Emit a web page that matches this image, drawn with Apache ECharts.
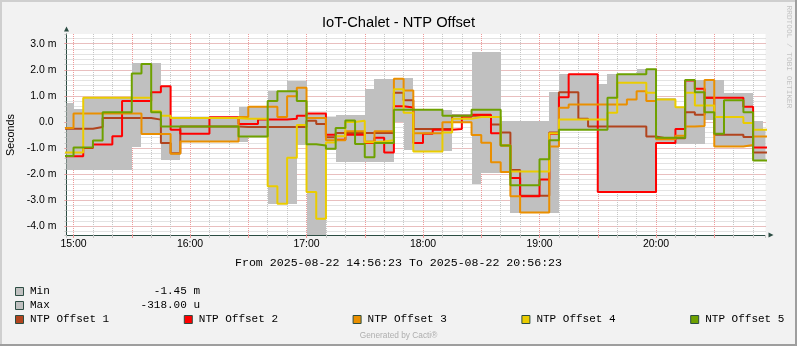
<!DOCTYPE html>
<html>
<head>
<meta charset="utf-8">
<title>IoT-Chalet - NTP Offset</title>
<script src="https://cdn.jsdelivr.net/npm/echarts@6/dist/echarts.min.js"></script>
<style>
  html, body { margin: 0; padding: 0; background: #F2F2F2; }
  #chart { width: 797px; height: 346px; }
</style>
</head>
<body>
<div id="chart"></div>
<script>
// Start of each 5-minute consolidation slot
const slotTimes = [
  '14:55',
  '15:00','15:05','15:10','15:15','15:20','15:25','15:30','15:35','15:40','15:45','15:50','15:55',
  '16:00','16:05','16:10','16:15','16:20','16:25','16:30','16:35','16:40','16:45','16:50','16:55',
  '17:00','17:05','17:10','17:15','17:20','17:25','17:30','17:35','17:40','17:45','17:50','17:55',
  '18:00','18:05','18:10','18:15','18:20','18:25','18:30','18:35','18:40','18:45','18:50','18:55',
  '19:00','19:05','19:10','19:15','19:20','19:25','19:30','19:35','19:40','19:45','19:50','19:55',
  '20:00','20:05','20:10','20:15','20:20','20:25','20:30','20:35','20:40','20:45','20:50','20:55'
];
const slotEnd = '21:00';
const graphDate = '2025-08-22';
const rangeStart = '14:56:23';
const rangeEnd = '20:56:23';

// Offsets in milliseconds
const offset1 = [-0.26,-0.26,-0.26,-0.19,0.15,0.15,0.15,0.15,0.15,0.09,-0.81,-1.2,
  -0.17,-0.17,-0.17,-0.17,-0.17,-0.17,
  -0.19,-0.19,-0.19,-0.19,-0.19,-0.19,-0.19,
  0.05,-0.08,-0.59,
  -0.42,-0.42,-0.42,-0.42,-0.42,-0.42,
  1.12,0.83,
  -0.27,-0.27,-0.27,-0.27,
  0.24,0.24,0.24,0.24,
  -0.1,-0.4,-1.84,
  -2.83,-2.83,-2.83,
  -0.4,
  1.14,1.14,
  0.12,
  -0.17,-0.17,-0.17,-0.17,-0.17,-0.17,
  -0.56,
  -0.62,-0.62,-0.62,
  0.37,0.28,0.93,
  -0.49,-0.49,-0.49,
  -0.58,
  -1.17,-1.17];

const offset2 = [-1.31,-1.31,-1.0,-0.86,-0.86,-0.55,0.8,0.8,0.8,1.14,1.37,-0.3,
  -0.45,-0.45,-0.45,0.18,0.18,0.18,-0.08,-0.08,0.09,0.09,0.09,0.12,
  0.24,0.32,0.32,-0.49,-0.68,-0.49,-0.49,-0.81,-0.6,-1.17,0.6,0.55,
  -0.81,-0.45,-0.3,-0.3,-0.27,0.2,0.28,0.28,-0.43,-0.9,-2.15,-2.85,
  -2.85,-2.2,-0.45,0.95,1.83,1.83,1.83,
  -2.68,-2.68,-2.68,-2.68,-2.68,-2.68,
  -0.81,-0.81,-0.27,1.59,1.27,
  0.93,0.93,0.93,0.93,0.58,-0.98,-0.98];

const offset3 = [-0.23,
  0.32,0.32,0.32,0.32,0.32,0.32,0.32,
  -0.46,-0.46,-0.46,-1.22,
  -0.75,-0.75,-0.75,-0.75,-0.75,-0.75,
  0.19,0.58,0.58,0.58,0.19,0.99,1.31,0.15,0.15,
  -0.7,-0.7,-0.36,-0.36,-0.75,-0.36,-0.36,1.66,1.21,
  -0.43,-0.43,-0.43,-0.01,-0.01,-0.01,
  -0.5,-0.8,-1.54,-1.92,-2.85,-3.47,-3.47,-3.47,-0.94,0.54,
  0.67,0.67,0.67,0.67,0.67,0.67,
  0.86,1.18,0.8,-0.66,-0.66,-0.53,-0.17,-0.15,1.61,
  -0.94,-0.94,-0.94,-0.88,-0.56,-0.56];

const offset4 = [-1.17,-1.17,
  0.93,0.93,0.93,0.93,0.93,0.93,0.93,
  0.41,0.24,
  0.15,0.15,0.15,0.15,0.15,0.15,0.15,
  0.12,0.12,0.12,
  -2.46,-3.13,-1.37,-0.12,-2.68,-3.71,-0.79,-0.55,0.0,0.05,-0.78,-0.75,-0.7,1.25,0.35,
  -1.13,-1.13,-1.13,-0.4,0.12,0.12,0.19,0.19,0.19,-0.9,
  -1.9,-1.9,-1.9,-1.9,-0.43,
  0.09,0.09,0.09,0.09,0.09,
  0.35,1.5,1.5,1.5,1.12,0.86,0.86,0.56,1.12,0.63,0.63,
  0.19,0.19,0.19,-0.04,-0.3,-0.3];

const offset5 = [-1.3,-0.98,-0.98,-0.71,0.37,0.37,0.37,1.86,2.22,0.37,
  -0.17,-0.17,-0.17,-0.17,-0.17,-0.17,-0.17,-0.17,
  -0.56,-0.56,-0.56,0.8,1.18,1.18,0.8,-0.85,-0.9,-1.03,-0.23,0.06,-0.84,-1.35,-0.81,-0.81,
  0.47,0.47,0.47,0.47,0.47,0.24,0.24,0.24,0.47,0.47,0.47,-0.9,
  -2.42,-2.42,-2.42,-1.43,-0.7,
  -0.3,-0.3,-0.3,-0.3,-0.3,
  0.93,1.83,1.83,1.83,2.02,-0.6,-0.6,-0.6,1.61,1.14,0.37,-0.45,0.83,0.83,0.37,-1.48,-1.48];

// Min / max envelope of the consolidation
const bandMin = [-1.84,-1.84,-1.84,-1.84,-1.84,-1.84,-1.84,
  -0.94,-0.46,-0.46,-1.46,-1.46,
  -0.77,-0.77,-0.77,-0.77,-0.77,-0.77,-0.77,
  -0.58,-0.58,-3.13,-3.15,-3.15,-0.9,-4.6,-4.6,-1.07,
  -1.52,-1.52,-1.52,-1.52,-1.52,-1.52,
  -0.02,-1.07,-1.13,-1.13,-1.13,-1.13,-0.05,-0.05,
  -2.38,-1.94,-1.94,-1.94,
  -3.47,-3.47,-3.47,-3.47,-3.47,
  -0.32,-0.32,-0.32,-0.32,
  -2.7,-2.7,-2.7,-2.7,-2.7,-2.7,
  -0.83,-0.83,-0.83,-0.83,-0.83,
  0.06,-0.96,-0.96,-0.96,-0.96,-1.48,-1.45];

const bandMax = [0.71,0.51,0.95,0.95,0.95,0.95,0.95,
  2.25,2.25,2.25,1.37,0.17,
  0.2,0.2,0.2,0.2,0.2,0.2,
  0.58,0.6,0.6,1.18,1.2,1.57,1.57,0.35,0.35,0.19,
  0.28,0.28,0.28,1.25,1.66,1.66,1.68,1.68,
  0.47,0.47,0.47,0.47,0.3,0.3,
  2.69,2.69,2.69,
  0.02,0.02,0.02,0.02,0.02,1.14,
  1.85,1.85,1.85,1.85,1.44,1.85,1.85,1.85,2.03,2.03,
  0.9,0.9,0.56,1.61,1.61,1.61,1.61,1.12,1.12,1.12,0.02,-0.318];

const seriesNames = ['NTP Offset 1', 'NTP Offset 2', 'NTP Offset 3', 'NTP Offset 4', 'NTP Offset 5'];
const seriesColors = ['#B1441E', '#FF0000', '#EA8F00', '#EACC00', '#6EA100'];
const seriesValues = [offset1, offset2, offset3, offset4, offset5];

// ---- helpers ----
function toMinutes(hms) {
  const p = hms.split(':').map(Number);
  return p[0] * 60 + p[1] + (p[2] || 0) / 60;
}
const edges = slotTimes.concat([slotEnd]).map(toMinutes);
function stepData(values) {
  return edges.map((t, i) => [t, values[Math.min(i, values.length - 1)]]);
}
function fmtAxis(v) {
  if (Math.abs(v) < 1e-9) return '0.0 ';
  return v.toFixed(1) + ' m';
}
function fmtHour(v) {
  if (Math.abs(v % 60) > 1e-6) return '';
  const h = Math.round(v / 60);
  return (h < 10 ? '0' : '') + h + ':00';
}
// value in ms, printed with an SI prefix
function fmtLegend(v) {
  if (Math.abs(v) >= 1) return v.toFixed(2) + ' m';
  return (v * 1000).toFixed(2) + ' u';
}

const xMin = toMinutes(rangeStart);
const xMax = toMinutes(rangeEnd);
const yMin = -4.33;
const yMax = 3.37;

const AXIS = '#2C4D43';
const GRID_MINOR = '#C6C6C6';
const GRID_MAJOR = '#EE9A9A';
const BAND = '#C0C0C0';
const SANS = '"Liberation Sans", Arial, sans-serif';
const MONO = '"Liberation Mono", "DejaVu Sans Mono", monospace';

// min/max envelope: one block per slot, snapped to whole pixels so neighbours join cleanly
const bandRows = slotTimes.map((t, i) => [edges[i], edges[i + 1], bandMin[i], bandMax[i]]);

const series = [
  {
    name: 'Min / Max', type: 'custom', coordinateSystem: 'cartesian2d',
    xAxisIndex: 0, yAxisIndex: 0, silent: true, z: 2,
    encode: { x: [0, 1], y: [2, 3] },
    data: bandRows,
    renderItem: function (params, api) {
      const pTop = api.coord([api.value(0), api.value(3)]);
      const pBot = api.coord([api.value(1), api.value(2)]);
      const x0 = Math.round(pTop[0]), x1 = Math.round(pBot[0]);
      const y0 = Math.round(pTop[1]), y1 = Math.round(pBot[1]);
      const cs = params.coordSys;
      const shape = echarts.graphic.clipRectByRect(
        { x: x0, y: y0, width: x1 - x0, height: y1 - y0 },
        { x: cs.x, y: cs.y, width: cs.width, height: cs.height });
      if (!shape) return null;
      return { type: 'rect', shape: shape, style: { fill: BAND } };
    }
  }
];
seriesValues.forEach((vals, i) => {
  series.push({
    name: seriesNames[i], type: 'line', step: 'end', data: stepData(vals),
    xAxisIndex: 0, yAxisIndex: 0,
    symbol: 'none', silent: true, z: 3 + i,
    lineStyle: { color: seriesColors[i], width: 2 }
  });
});

const graphic = [];
// 3d frame
graphic.push({ type: 'rect', shape: { x: 0, y: 0, width: 797, height: 2 }, style: { fill: '#CFCFCF' }, silent: true });
graphic.push({ type: 'rect', shape: { x: 0, y: 0, width: 2, height: 346 }, style: { fill: '#CFCFCF' }, silent: true });
graphic.push({ type: 'rect', shape: { x: 0, y: 344, width: 797, height: 2 }, style: { fill: '#9E9E9E' }, silent: true });
graphic.push({ type: 'rect', shape: { x: 795, y: 0, width: 2, height: 346 }, style: { fill: '#9E9E9E' }, silent: true });

graphic.push({ type: 'text', x: 398.5, y: 23, silent: true,
  style: { text: 'IoT-Chalet - NTP Offset', fill: '#000', fontSize: 14.7, fontFamily: SANS, align: 'center', verticalAlign: 'middle' } });
graphic.push({ type: 'text', x: 11, y: 135, rotation: Math.PI / 2, silent: true,
  style: { text: 'Seconds', fill: '#000', fontSize: 10.8, fontFamily: SANS, align: 'center', verticalAlign: 'middle' } });
graphic.push({ type: 'text', x: 789, y: 57, rotation: -Math.PI / 2, silent: true,
  style: { text: 'RRDTOOL / TOBI OETIKER', fill: '#C4C4C4', fontSize: 7.8, fontFamily: MONO, align: 'center', verticalAlign: 'middle' } });
graphic.push({ type: 'text', x: 398.5, y: 263, silent: true,
  style: { text: 'From ' + graphDate + ' ' + rangeStart + ' To ' + graphDate + ' ' + rangeEnd,
    fill: '#000', fontSize: 11.6, fontFamily: MONO, align: 'center', verticalAlign: 'middle' } });
graphic.push({ type: 'text', x: 398.5, y: 336, silent: true,
  style: { text: 'Generated by Cacti\u00AE', fill: '#AEAEAE', fontSize: 8.3, fontFamily: SANS, align: 'center', verticalAlign: 'middle' } });

function legendEntry(x, y, color, label) {
  graphic.push({ type: 'rect', silent: true, shape: { x: x + 0.5, y: y + 0.5, width: 8, height: 8 },
    style: { fill: color, stroke: AXIS, lineWidth: 1 } });
  graphic.push({ type: 'text', x: x + 15, y: y + 4.5, silent: true,
    style: { text: label, fill: '#000', fontSize: 11, fontFamily: MONO, align: 'left', verticalAlign: 'middle' } });
}
legendEntry(15, 287, BAND, 'Min');
graphic.push({ type: 'text', x: 200, y: 291.5, silent: true,
  style: { text: fmtLegend(bandMin[bandMin.length - 1]), fill: '#000', fontSize: 11, fontFamily: MONO, align: 'right', verticalAlign: 'middle' } });
legendEntry(15, 301, BAND, 'Max');
graphic.push({ type: 'text', x: 200, y: 305.5, silent: true,
  style: { text: fmtLegend(bandMax[bandMax.length - 1]), fill: '#000', fontSize: 11, fontFamily: MONO, align: 'right', verticalAlign: 'middle' } });
seriesNames.forEach((n, i) => legendEntry(15 + i * 168.8, 315, seriesColors[i], n));

const option = {
  animation: false,
  backgroundColor: '#F2F2F2',
  grid: { left: 66.5, top: 34, width: 699, height: 201, show: true, backgroundColor: '#FFFFFF', borderWidth: 0 },
  xAxis: [
    {
      type: 'value', position: 'bottom', min: xMin, max: xMax, alignTicks: false,
      splitNumber: 36, minInterval: 10, maxInterval: 10,
      axisLine: { show: false, onZero: false },
      axisTick: { show: true, length: 3, lineStyle: { color: GRID_MINOR, width: 1 } },
      axisLabel: { show: false },
      splitLine: { show: true, showMinLine: false, showMaxLine: false, lineStyle: { color: GRID_MINOR, width: 1, type: [1, 1] } }
    },
    {
      type: 'value', position: 'bottom', min: xMin, max: xMax, alignTicks: false,
      splitNumber: 12, minInterval: 30, maxInterval: 30,
      axisLine: { show: true, onZero: false, lineStyle: { color: AXIS, width: 1 },
        symbol: ['none', 'triangle'], symbolSize: [5, 5], symbolOffset: [0, 5.5] },
      axisTick: { show: true, length: 3, lineStyle: { color: GRID_MAJOR, width: 1 } },
      axisLabel: { show: true, formatter: fmtHour, showMinLabel: false, showMaxLabel: false,
        color: '#000', fontSize: 10.5, fontFamily: SANS, margin: 4 },
      splitLine: { show: true, showMinLine: false, showMaxLine: false, lineStyle: { color: GRID_MAJOR, width: 1, type: [1, 1] } }
    }
  ],
  yAxis: [
    {
      type: 'value', position: 'left', min: yMin, max: yMax, alignTicks: false,
      splitNumber: 39, minInterval: 0.2, maxInterval: 0.2,
      axisLine: { show: false, onZero: false },
      axisTick: { show: true, length: 2, lineStyle: { color: GRID_MINOR, width: 1 } },
      axisLabel: { show: false },
      splitLine: { show: true, showMinLine: false, showMaxLine: false, lineStyle: { color: GRID_MINOR, width: 1, type: [1, 1] } }
    },
    {
      type: 'value', position: 'left', min: yMin, max: yMax, alignTicks: false,
      splitNumber: 8, minInterval: 1, maxInterval: 1,
      axisLine: { show: true, onZero: false, lineStyle: { color: AXIS, width: 1 },
        symbol: ['none', 'triangle'], symbolSize: [5, 5], symbolOffset: [0, 5] },
      axisTick: { show: true, length: 2, lineStyle: { color: GRID_MAJOR, width: 1 } },
      axisLabel: { show: true, formatter: fmtAxis, showMinLabel: false, showMaxLabel: false,
        color: '#000', fontSize: 10.5, fontFamily: SANS, margin: 10 },
      splitLine: { show: true, showMinLine: false, showMaxLine: false, lineStyle: { color: GRID_MAJOR, width: 1, type: [1, 1] } }
    }
  ],
  series: series,
  graphic: graphic
};

const chart = echarts.init(document.getElementById('chart'), null, { renderer: 'canvas', width: 797, height: 346 });
chart.setOption(option);
</script>
</body>
</html>
